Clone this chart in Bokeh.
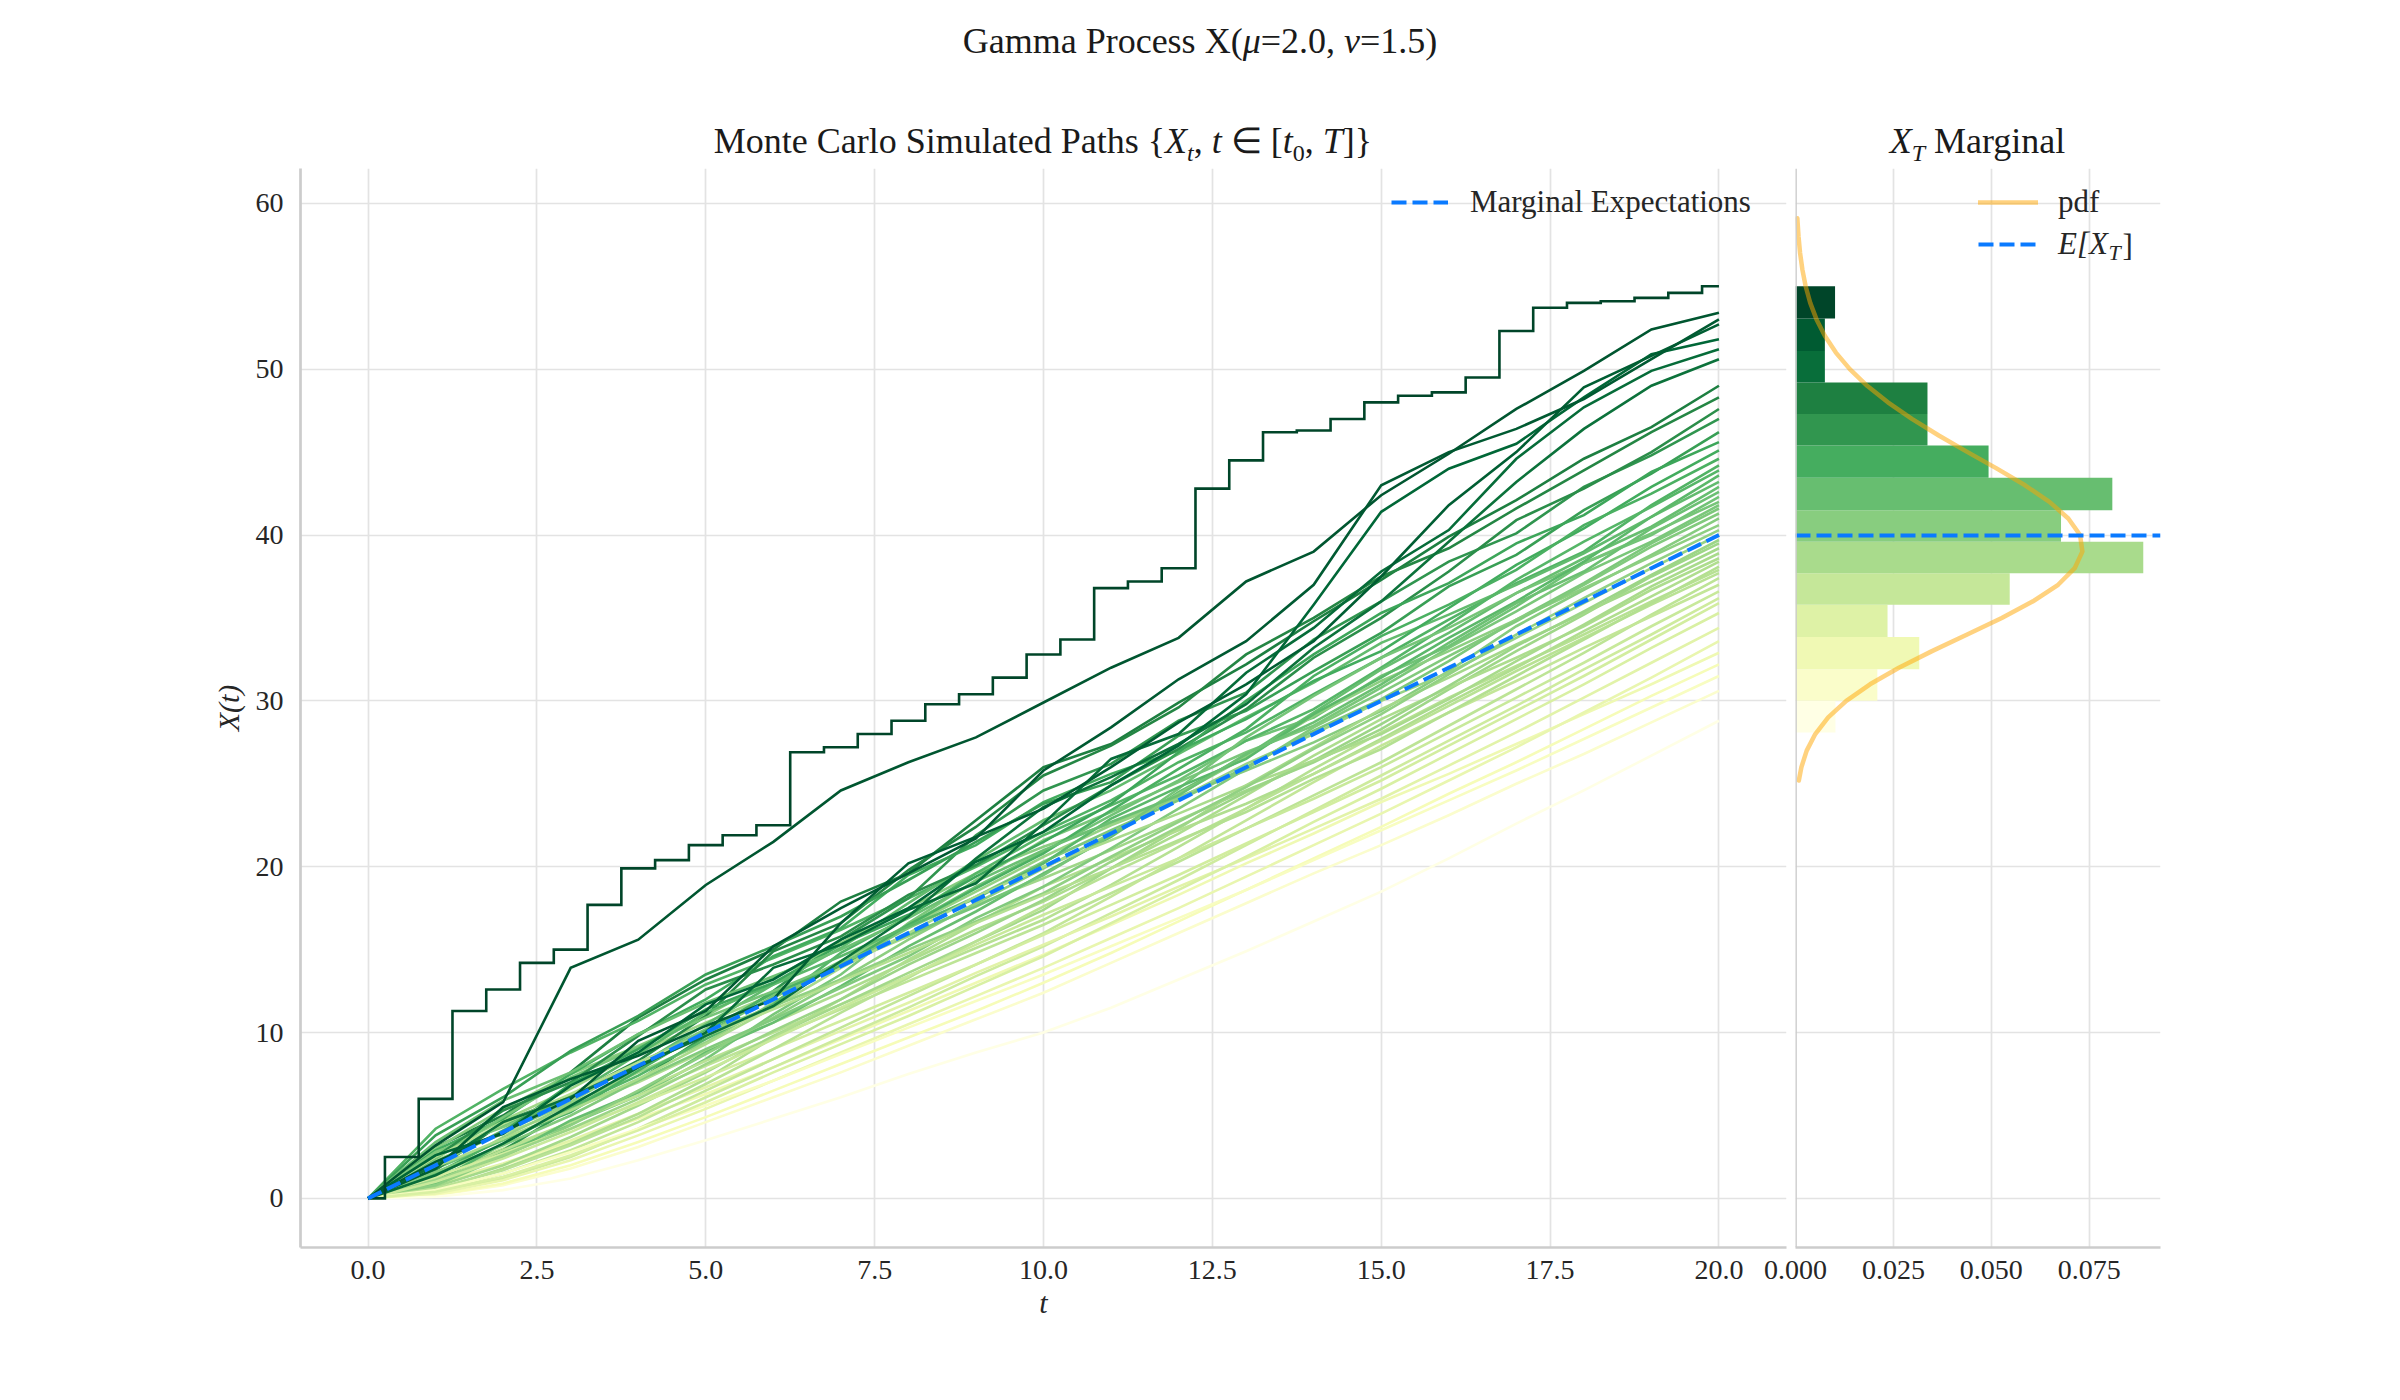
import numpy as np
from bokeh.plotting import figure
from bokeh.models import Range1d, FixedTicker, PrintfTickFormatter, Legend, LegendItem, Label, Span, Div
from bokeh.layouts import row, column
from bokeh.embed import file_html
from bokeh.resources import INLINE

MU = 2.0
NU = 1.5
T_END = 20.0

# ---- simulated paths ----
# path with the highest terminal value, sampled every 0.5
PATH_TOP = [0, 2.5, 6.0, 11.3, 12.6, 14.2, 15.0, 17.7, 19.9, 20.4, 21.3, 21.9, 22.5, 26.9,
            27.2, 28.0, 28.8, 29.8, 30.4, 31.4, 32.8, 33.7, 36.8, 37.2, 38.0, 42.8, 44.5,
            46.2, 46.3, 47.0, 48.0, 48.4, 48.6, 49.5, 52.3, 53.7, 54.0, 54.1, 54.3, 54.6, 55.0]

# other high paths, sampled every 1.0
PATHS_HIGH = [
    [0, 3.2, 5.8, 13.9, 15.6, 18.9, 21.5, 24.6, 26.3, 27.8, 29.9, 32.0, 33.8, 37.2, 39.0, 42.4, 44.9, 47.6, 49.9, 52.4, 53.4],
    [0, 2.2, 4.0, 6.0, 9.5, 11.3, 15.2, 17.5, 19.6, 21.7, 25.8, 28.4, 31.3, 33.6, 37.0, 43.0, 45.0, 46.4, 48.2, 50.6, 53.0],
    [0, 1.8, 5.5, 7.2, 8.6, 10.4, 12.0, 16.6, 20.2, 21.8, 23.5, 26.0, 28.7, 31.0, 33.6, 37.5, 41.8, 45.0, 48.9, 50.8, 52.7],
    [0, 2.6, 3.9, 6.8, 8.8, 11.7, 13.2, 15.6, 17.5, 20.3, 22.1, 24.9, 27.3, 30.4, 35.8, 41.4, 44.0, 45.5, 48.3, 50.9, 51.8],
    [0, 1.4, 3.3, 5.6, 7.9, 10.0, 13.9, 15.3, 17.4, 19.0, 22.6, 26.5, 28.0, 31.7, 34.4, 37.8, 40.3, 44.6, 47.7, 49.9, 51.2],
    [0, 2.0, 4.6, 6.1, 8.0, 9.8, 11.6, 14.3, 17.0, 20.5, 23.6, 25.4, 27.4, 29.8, 33.2, 36.0, 39.6, 43.2, 46.4, 49.0, 50.6],
]

# the bulk of the paths, sampled every 1.0
PATHS_BULK = [
    [0, 3.1, 5.0, 7.6, 10.9, 13.2, 15.0, 17.9, 19.6, 22.8, 26.0, 27.4, 29.9, 32.2, 34.8, 37.3, 39.9, 42.1, 44.6, 46.5, 49.0],
    [0, 1.7, 4.6, 6.2, 8.3, 11.0, 14.9, 16.6, 19.8, 22.4, 25.5, 27.3, 29.6, 32.8, 35.0, 37.5, 39.2, 41.6, 43.9, 46.2, 48.3],
    [0, 2.5, 5.3, 7.0, 9.8, 12.6, 14.1, 15.8, 18.3, 20.1, 22.5, 24.9, 27.1, 29.5, 32.6, 35.0, 37.8, 40.9, 42.8, 45.0, 47.6],
    [0, 1.2, 2.9, 5.4, 7.1, 9.8, 12.5, 15.6, 18.1, 21.9, 24.6, 26.2, 28.8, 30.5, 33.7, 36.0, 38.4, 40.1, 42.9, 44.8, 47.0],
    [0, 3.8, 6.1, 8.9, 11.0, 13.5, 15.2, 17.0, 19.2, 21.5, 23.8, 25.1, 27.9, 29.4, 31.8, 34.1, 36.9, 38.8, 41.5, 43.7, 46.2],
    [0, 2.2, 4.0, 6.9, 9.0, 11.4, 13.0, 15.3, 17.1, 19.4, 21.5, 23.8, 26.9, 30.0, 32.8, 35.3, 37.1, 39.5, 41.2, 43.8, 45.6],
    [0, 2.9, 4.8, 7.5, 9.9, 12.0, 14.6, 16.3, 19.5, 21.3, 23.9, 25.6, 27.0, 28.9, 31.2, 33.0, 35.6, 38.2, 40.4, 42.9, 45.1],
    [0, 1.5, 3.6, 5.2, 7.7, 10.1, 12.4, 14.0, 16.5, 18.7, 20.8, 23.4, 25.9, 28.3, 31.5, 33.9, 35.8, 37.9, 40.6, 42.5, 44.6],
    [0, 4.2, 6.6, 8.8, 10.7, 12.9, 14.5, 16.2, 18.1, 20.0, 22.1, 24.0, 26.3, 28.1, 30.4, 32.6, 34.9, 37.1, 39.0, 41.8, 44.2],
    [0, 1.0, 3.3, 5.5, 7.4, 9.6, 11.7, 14.8, 17.0, 19.6, 21.9, 23.7, 25.5, 27.6, 29.5, 32.0, 34.6, 37.3, 39.6, 41.7, 43.9],
    [0, 2.0, 4.1, 6.2, 8.7, 11.2, 12.9, 14.6, 16.4, 18.1, 20.2, 22.9, 24.8, 26.5, 29.2, 31.4, 33.8, 36.0, 38.4, 41.1, 43.6],
    [0, 2.6, 4.4, 6.1, 8.0, 10.5, 12.9, 15.1, 17.8, 20.4, 22.8, 24.6, 26.8, 29.0, 31.1, 33.5, 35.2, 37.0, 38.9, 41.1, 43.2],
    [0, 0.9, 2.5, 4.7, 6.4, 8.8, 10.6, 12.8, 15.2, 17.3, 19.6, 21.8, 24.5, 26.7, 29.3, 31.9, 34.1, 36.5, 38.6, 40.5, 42.9],
    [0, 3.4, 5.9, 7.6, 9.9, 11.8, 13.4, 15.0, 16.9, 19.1, 21.0, 22.7, 24.3, 26.8, 28.7, 31.0, 33.5, 35.9, 37.8, 40.4, 42.6],
    [0, 1.8, 3.5, 5.3, 7.9, 9.9, 12.2, 14.3, 16.5, 18.8, 20.9, 23.1, 25.2, 27.6, 29.0, 31.5, 33.3, 35.7, 38.3, 40.0, 42.3],
    [0, 2.4, 4.9, 7.3, 9.1, 10.9, 12.5, 14.2, 15.9, 17.6, 19.5, 21.9, 24.7, 27.8, 30.3, 32.6, 34.4, 36.5, 38.3, 40.1, 42.0],
    [0, 1.3, 2.8, 4.5, 6.2, 8.4, 11.1, 13.5, 16.6, 19.2, 21.6, 23.3, 25.1, 26.9, 28.5, 30.8, 33.2, 35.4, 37.7, 39.6, 41.8],
    [0, 2.8, 4.3, 6.0, 8.1, 10.2, 12.1, 14.1, 16.3, 18.2, 20.3, 22.2, 24.0, 26.0, 28.2, 30.1, 32.4, 34.9, 37.1, 39.5, 41.6],
    [0, 1.6, 3.2, 5.0, 7.1, 9.0, 10.8, 12.7, 14.6, 16.9, 18.8, 21.1, 23.5, 25.9, 28.4, 30.5, 32.7, 34.8, 37.0, 39.3, 41.3],
    [0, 3.0, 5.4, 7.5, 9.2, 11.0, 13.3, 15.4, 17.5, 19.6, 21.2, 22.6, 24.2, 25.8, 27.5, 29.4, 31.8, 34.5, 36.7, 38.8, 41.0],
    [0, 0.8, 2.5, 4.4, 6.5, 8.7, 10.9, 13.2, 15.6, 17.8, 19.9, 22.0, 24.4, 26.6, 29.1, 31.2, 33.0, 34.9, 36.8, 38.7, 40.6],
    [0, 2.1, 4.0, 5.8, 8.2, 10.0, 11.6, 13.2, 15.0, 16.7, 18.4, 20.6, 22.7, 24.8, 27.1, 29.2, 31.6, 34.0, 36.2, 38.3, 40.3],
    [0, 1.4, 3.7, 5.7, 7.6, 9.4, 11.8, 14.2, 16.4, 18.5, 20.6, 22.5, 24.1, 26.2, 28.0, 30.0, 31.7, 33.8, 35.9, 38.0, 40.0],
    [0, 1.1, 2.6, 4.2, 6.0, 8.1, 10.1, 12.0, 14.1, 16.0, 18.0, 20.3, 22.4, 24.5, 26.4, 28.6, 30.9, 33.3, 35.4, 37.6, 39.7],
    [0, 2.7, 4.7, 6.6, 8.8, 10.6, 12.3, 14.1, 15.8, 17.7, 19.3, 21.0, 22.8, 24.6, 26.3, 28.3, 30.7, 33.0, 35.2, 37.5, 39.5],
    [0, 0.7, 2.0, 3.7, 5.6, 7.6, 9.8, 11.7, 13.6, 15.5, 17.4, 19.9, 22.3, 24.9, 27.2, 29.5, 31.4, 33.4, 35.3, 37.2, 39.2],
    [0, 1.9, 3.6, 5.3, 7.2, 9.3, 11.5, 13.9, 16.0, 18.2, 20.0, 21.6, 23.2, 24.9, 26.4, 28.0, 30.1, 32.4, 34.6, 36.9, 38.9],
    [0, 2.3, 3.9, 5.4, 7.0, 8.9, 10.6, 12.4, 14.3, 16.2, 17.9, 19.9, 22.0, 24.3, 26.7, 28.9, 30.8, 32.6, 34.5, 36.7, 38.6],
    [0, 0.5, 1.8, 3.3, 5.1, 7.2, 9.7, 12.0, 14.4, 16.6, 18.8, 20.5, 22.2, 23.8, 25.6, 27.7, 29.9, 32.0, 34.2, 36.3, 38.4],
    [0, 2.5, 4.5, 6.3, 8.2, 9.8, 11.4, 13.1, 14.8, 16.6, 18.3, 19.9, 21.6, 23.3, 25.3, 27.1, 29.3, 31.5, 33.7, 35.9, 38.1],
    [0, 1.2, 2.9, 4.6, 6.4, 8.3, 10.0, 11.7, 13.4, 15.1, 16.8, 18.9, 21.2, 23.5, 25.9, 28.1, 30.2, 32.1, 34.0, 36.0, 37.9],
    [0, 0.6, 1.7, 3.2, 4.9, 6.9, 9.0, 11.2, 13.3, 15.5, 17.6, 19.6, 21.5, 23.5, 25.6, 27.6, 29.7, 31.8, 33.8, 35.8, 37.7],
    [0, 1.5, 3.0, 4.6, 6.2, 8.0, 9.7, 11.4, 13.1, 14.8, 16.5, 18.4, 20.3, 22.3, 24.3, 26.3, 28.5, 30.7, 32.9, 35.2, 37.4],
    [0, 0.4, 1.5, 2.9, 4.6, 6.5, 8.4, 10.3, 12.2, 14.1, 16.0, 18.2, 20.5, 22.8, 25.1, 27.3, 29.3, 31.2, 33.2, 35.1, 37.0],
    [0, 1.0, 2.4, 4.0, 5.8, 7.7, 9.6, 11.5, 13.4, 15.3, 17.1, 18.8, 20.5, 22.3, 24.1, 26.0, 28.1, 30.2, 32.3, 34.5, 36.6],
    [0, 0.3, 1.2, 2.5, 4.2, 6.1, 7.9, 9.7, 11.5, 13.4, 15.2, 17.2, 19.2, 21.3, 23.4, 25.5, 27.6, 29.7, 31.9, 34.0, 36.2],
    [0, 1.3, 2.7, 4.2, 5.7, 7.3, 9.0, 10.7, 12.4, 14.1, 15.9, 17.7, 19.5, 21.4, 23.3, 25.2, 27.3, 29.4, 31.5, 33.7, 35.9],
    [0, 0.4, 1.3, 2.6, 4.1, 5.8, 7.6, 9.3, 11.0, 12.8, 14.6, 16.6, 18.6, 20.6, 22.7, 24.7, 26.8, 28.9, 31.0, 33.2, 35.3],
    [0, 0.9, 2.1, 3.5, 5.1, 6.7, 8.4, 10.1, 11.8, 13.6, 15.3, 17.0, 18.8, 20.5, 22.3, 24.1, 26.1, 28.1, 30.2, 32.3, 34.4],
    [0, 0.3, 1.1, 2.3, 3.8, 5.4, 7.1, 8.8, 10.5, 12.2, 13.9, 15.7, 17.5, 19.4, 21.3, 23.2, 25.2, 27.2, 29.3, 31.4, 33.6],
    [0, 0.8, 2.0, 3.4, 4.8, 6.3, 7.9, 9.6, 11.3, 13.0, 14.7, 16.5, 18.3, 20.2, 22.0, 23.9, 25.6, 27.4, 29.2, 31.0, 32.9],
    [0, 0.2, 0.9, 2.0, 3.4, 4.9, 6.5, 8.1, 9.7, 11.3, 13.0, 14.8, 16.7, 18.6, 20.5, 22.4, 24.4, 26.3, 28.3, 30.3, 32.2],
    [0, 0.5, 1.5, 2.8, 4.2, 5.6, 7.1, 8.7, 10.3, 11.9, 13.5, 15.2, 16.9, 18.6, 20.4, 22.2, 24.0, 25.8, 27.7, 29.6, 31.5],
    [0, 0.2, 0.8, 1.8, 3.1, 4.6, 6.1, 7.6, 9.2, 10.8, 12.4, 14.2, 16.0, 17.8, 19.6, 21.3, 23.1, 25.0, 26.8, 28.7, 30.6],
    [0, 0.1, 0.5, 1.2, 2.3, 3.5, 4.8, 6.1, 7.5, 8.8, 10.0, 11.5, 13.2, 14.9, 16.7, 18.5, 20.5, 22.6, 24.6, 26.7, 28.8],
]

# ---- terminal-value histogram (density) ----
HIST_EDGES = [28.1, 30.0, 31.9, 33.85, 35.8, 37.7, 39.6, 41.5, 43.45, 45.4, 47.3, 49.2, 51.1, 53.05, 55.0]
HIST_DENS = [0.0102, 0.0209, 0.0316, 0.0235, 0.0547, 0.0888, 0.0678, 0.0809, 0.0493, 0.0337,
             0.0337, 0.0075, 0.0075, 0.0101]

# ---- marginal pdf curve ----
PDF_Y = [25.2, 26, 27, 28, 29, 30, 31, 32, 33, 34, 35, 36, 37, 38, 39, 40, 41, 42, 43, 44,
         45, 46, 47, 48, 49, 50, 51, 52, 53, 54, 55, 56, 57, 58, 59.1]
PDF_X = [0.00085, 0.00150, 0.00286, 0.00505, 0.00835, 0.01297, 0.01903, 0.02640, 0.03485,
         0.04384, 0.05267, 0.06064, 0.06706, 0.07129, 0.07325, 0.07266, 0.06966, 0.06484,
         0.05861, 0.05144, 0.04394, 0.03659, 0.02972, 0.02359, 0.01829, 0.01387, 0.01031,
         0.00752, 0.00537, 0.00376, 0.00259, 0.00176, 0.00117, 0.00077, 0.00047]

X_TICKS = [0.0, 2.5, 5.0, 7.5, 10.0, 12.5, 15.0, 17.5, 20.0]
Y_TICKS = [0, 10, 20, 30, 40, 50, 60]
HIST_TICKS = [0.0, 0.025, 0.05, 0.075]

FONT = "Liberation Serif"
BLUE = "#0a7aff"
TXT = "#262626"
GRID = "#e3e3e3"
SPINE = "#cccccc"

YLGN = ["#ffffe5", "#f7fcb9", "#d9f0a3", "#addd8e", "#78c679", "#41ab5d", "#238443", "#006837", "#004529"]
YLGN_RGB = np.array([[int(c[i:i + 2], 16) for i in (1, 3, 5)] for c in YLGN], dtype=float)


def ylgn(v):
    v = float(np.clip(v, 0.0, 1.0))
    pos = v * (len(YLGN) - 1)
    i = min(int(pos), len(YLGN) - 2)
    f = pos - i
    c = YLGN_RGB[i] * (1 - f) + YLGN_RGB[i + 1] * f
    return "#%02x%02x%02x" % tuple(int(round(x)) for x in c)


HEADER_H = 168
FRAME_H = 1079
BOTTOM = 153

# ---------------- header with the three titles ----------------
title_css = ("position:absolute;text-align:center;font-size:36px;line-height:46px;"
             "white-space:nowrap;")
header_html = (
    '<div style="position:relative;width:2400px;height:%dpx;font-family:\'Liberation Serif\',serif;'
    'color:#1a1a1a;">' % HEADER_H
    + '<div style="%sleft:0px;width:2400px;top:18px;">Gamma Process X(<i>&mu;</i>=2.0, <i>&nu;</i>=1.5)</div>' % title_css
    + '<div style="%sleft:300px;width:1486px;top:118px;">Monte Carlo Simulated Paths '
      '{<i>X</i><sub style="font-size:24px;"><i>t</i></sub>, <i>t</i> &isin; '
      '[<i>t</i><sub style="font-size:24px;">0</sub>, <i>T</i>]}</div>' % title_css
    + '<div style="%sleft:1795px;width:365px;top:118px;"><i>X</i><sub style="font-size:24px;"><i>T</i></sub>'
      ' Marginal</div>' % title_css
    + '</div>'
)
header = Div(text=header_html, width=2400, height=HEADER_H, margin=(0, 0, 0, 0))

# ---------------- main panel ----------------
p1 = figure(width=1790, height=FRAME_H + BOTTOM, x_range=Range1d(-1.0, 21.0), y_range=Range1d(-2.96, 62.1),
            output_backend="svg", toolbar_location=None, title=None,
            min_border_left=300, min_border_right=4, min_border_top=0, min_border_bottom=BOTTOM)

all_paths = [PATH_TOP] + PATHS_HIGH + PATHS_BULK
finals = [p[-1] for p in all_paths]
fmin, fmax = min(finals), max(finals)

n_bulk = len(PATHS_BULK)
order = sorted(range(n_bulk), key=lambda k: (k * 17) % n_bulk)
for path in [PATHS_BULK[k] for k in order] + PATHS_HIGH[::-1]:
    vals = np.asarray(path, dtype=float)
    t = np.linspace(0.0, T_END, len(vals))
    col = ylgn((vals[-1] - fmin) / (fmax - fmin))
    p1.line(t, vals, line_color=col, line_width=2.6, line_join="miter")

top_vals = np.asarray(PATH_TOP, dtype=float)
p1.step(np.linspace(0.0, T_END, len(top_vals)), top_vals, mode="center",
        line_color=ylgn(1.0), line_width=2.6, line_join="miter")

t_mean = np.array([0.0, T_END])
r_mean = p1.line(t_mean, MU * t_mean, line_color=BLUE, line_width=4, line_dash="15 6")

# ---------------- marginal panel ----------------
p2 = figure(width=640, height=FRAME_H + BOTTOM, x_range=Range1d(0.0, 0.0932), y_range=p1.y_range,
            output_backend="svg", toolbar_location=None, title=None,
            min_border_left=35, min_border_right=240, min_border_top=0, min_border_bottom=BOTTOM)
p2.styles = {"margin-left": "-30px"}
p2.border_fill_color = None

edges = np.asarray(HIST_EDGES, dtype=float)
centers = 0.5 * (edges[:-1] + edges[1:])
heights = np.diff(edges)
nb = len(HIST_DENS)
bar_cols = [ylgn(i / (nb - 1)) for i in range(nb)]
p2.hbar(y=centers, height=heights, left=0.0, right=HIST_DENS, fill_color=bar_cols, line_color=None)

r_pdf = p2.line(PDF_X, PDF_Y, line_color="orange", line_alpha=0.5, line_width=4.5,
                line_join="round", line_cap="round")
EXP_T = MU * T_END
p2.hspan(y=[EXP_T], line_color=BLUE, line_width=4, line_dash="15 6")
r_e_leg = p2.line([0.0], [EXP_T], line_color=BLUE, line_width=4, line_dash="15 6")

# ---------------- axes / grids ----------------
for p in (p1, p2):
    p.outline_line_color = None
    p.grid.grid_line_color = GRID
    p.grid.grid_line_width = 1.7
    for ax in (p.xaxis, p.yaxis):
        ax.axis_line_color = SPINE
        ax.axis_line_width = 2.7
        ax.major_tick_line_color = None
        ax.minor_tick_line_color = None
        ax.major_label_text_font = FONT
        ax.major_label_text_font_size = "28px"
        ax.major_label_text_color = TXT
        ax.axis_label_text_font = FONT
        ax.axis_label_text_font_size = "30px"
        ax.axis_label_text_font_style = "italic"
        ax.axis_label_text_color = TXT
    p.xaxis.major_label_standoff = 7

p1.xaxis.ticker = FixedTicker(ticks=X_TICKS)
p1.xgrid.ticker = FixedTicker(ticks=X_TICKS)
p1.xaxis.formatter = PrintfTickFormatter(format="%.1f")
p1.yaxis.ticker = FixedTicker(ticks=Y_TICKS)
p1.ygrid.ticker = FixedTicker(ticks=Y_TICKS)
p1.yaxis.major_label_standoff = 11
p1.xaxis.axis_label = "t"
p1.yaxis.axis_label = "X(t)"
p1.xaxis.axis_label_standoff = 4
p1.yaxis.axis_label_standoff = 8

p2.xaxis.ticker = FixedTicker(ticks=HIST_TICKS)
p2.xgrid.ticker = FixedTicker(ticks=HIST_TICKS)
p2.xaxis.formatter = PrintfTickFormatter(format="%.3f")
p2.ygrid.ticker = FixedTicker(ticks=Y_TICKS)
p2.yaxis.visible = False
p2.add_layout(Span(location=p2.x_range.start, dimension="height", line_color=SPINE, line_width=2.7))

# ---------------- legends ----------------
leg_kw = dict(border_line_color=None, background_fill_alpha=0, padding=0, margin=0, spacing=8,
              glyph_height=34, label_height=34, label_text_font=FONT,
              label_text_font_size="31px", label_text_color=TXT)
leg1 = Legend(items=[LegendItem(label="Marginal Expectations", renderers=[r_mean])],
              location=(1091, 1027), glyph_width=57, label_standoff=22, **leg_kw)
p1.add_layout(leg1)

leg2a = Legend(items=[LegendItem(label="pdf", renderers=[r_pdf])],
               location=(183, 1027), glyph_width=60, label_standoff=20, **leg_kw)
p2.add_layout(leg2a)
leg2b = Legend(items=[LegendItem(label="E[X", renderers=[r_e_leg])],
               location=(183, 985), glyph_width=60, label_standoff=20,
               label_text_font_style="italic", **leg_kw)
p2.add_layout(leg2b)


def leg_lab(x, y, text, size="31px", style="normal"):
    p2.add_layout(Label(x=x, y=y, x_units="screen", y_units="screen", text=text,
                        text_align="left", text_baseline="middle", text_font=FONT,
                        text_font_size=size, text_font_style=style, text_color=TXT))


leg_lab(313, 995, "T", size="22px", style="italic")
leg_lab(327, 1002, "]")

layout = column(header, row(p1, p2))
open("out.html", "w").write(file_html(layout, INLINE))
